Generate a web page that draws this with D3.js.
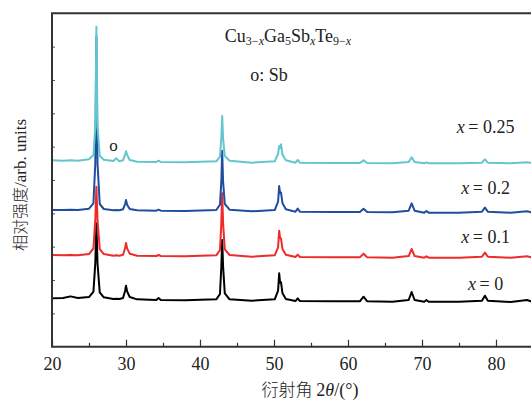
<!DOCTYPE html>
<html>
<head>
<meta charset="utf-8">
<script src="https://cdn.jsdelivr.net/npm/d3@7"></script>
<style>
  body { margin: 0; background: #fff; }
  svg text { font-family: "Liberation Serif", "DejaVu Serif", serif; fill: #222; }
  .cjk { font-family: "Noto Sans CJK SC", sans-serif; font-weight: 300; }
</style>
</head>
<body>
<svg id="chart" width="531" height="407"></svg>
<script>
// shared 2θ sampling points (degrees)
const angles = [20, 21.5, 22.5, 23.5, 25.0, 25.6, 25.85, 26.0, 26.15, 26.45,
  27.0, 28.3, 28.7, 29.1, 29.6, 29.88, 30.0, 30.15, 30.5, 31.5,
  34.1, 34.4, 34.7, 38.0, 42.2, 42.7, 42.88, 43.0, 43.12, 43.35,
  44.0, 47.0, 50.1, 50.55, 50.7, 50.82, 50.95, 51.15, 51.6, 52.9,
  53.2, 53.5, 58.0, 61.6, 62.1, 62.6, 66.0, 68.2, 68.6, 69.0,
  70.3, 70.6, 70.9, 75.0, 78.1, 78.5, 78.9, 82.0, 84.2, 85.0];

// intensities (arb. units, offset stacked)
const x0 = [14.5, 14.6, 15.1, 14.6, 14.9, 16.5, 25, 37, 25, 16.3,
  14.8, 14.3, 14.4, 14.3, 14.6, 16.8, 18.3, 16.6, 14.9, 14.2,
  14.0, 14.6, 14.0, 13.9, 14.2, 15.8, 24, 32, 24, 16.0,
  14.2, 13.8, 14.2, 16.8, 22.0, 19.2, 19.3, 16.0, 14.3, 13.7,
  14.5, 13.7, 13.6, 13.6, 15.0, 13.6, 13.5, 14.0, 16.4, 14.0,
  13.5, 14.0, 13.5, 13.5, 13.8, 15.3, 13.8, 13.4, 14.0, 13.4];

const x01 = [27.5, 27.4, 27.5, 27.4, 27.8, 29.5, 38, 48, 38, 29.3,
  27.8, 27.3, 27.4, 27.3, 27.6, 29.6, 31.1, 29.5, 27.9, 27.3,
  27.2, 27.5, 27.2, 27.1, 27.4, 29.0, 37, 46.0, 37, 29.2,
  27.5, 27.0, 27.4, 29.8, 34.8, 32.6, 32.4, 29.3, 27.6, 26.9,
  27.6, 26.9, 26.8, 26.8, 27.9, 26.8, 26.7, 27.2, 29.3, 27.2,
  26.7, 27.1, 26.7, 26.7, 27.0, 28.2, 27.0, 26.7, 27.1, 26.7];

const x02 = [41.0, 41.0, 41.1, 41.0, 41.4, 43.0, 55, 93.0, 55, 42.8,
  41.3, 40.9, 41.0, 40.9, 41.2, 42.8, 44.0, 42.6, 41.3, 40.9,
  40.8, 41.1, 40.8, 40.7, 41.0, 42.6, 49.5, 58.8, 49.5, 42.8,
  41.1, 40.6, 41.0, 43.5, 48.2, 46.0, 46.2, 43.0, 41.2, 40.5,
  41.4, 40.5, 40.4, 40.4, 41.4, 40.4, 40.3, 40.8, 43.0, 40.8,
  40.2, 40.7, 40.2, 40.2, 40.5, 41.7, 40.5, 40.2, 40.6, 40.2];

const x025 = [55.9, 55.8, 55.9, 55.8, 56.2, 57.5, 66, 96.0, 66, 57.3,
  56.1, 55.7, 56.5, 55.6, 55.9, 57.6, 58.6, 57.6, 56.0, 55.5,
  55.4, 55.8, 55.4, 55.3, 55.6, 57.0, 62.5, 69.2, 62.5, 57.2,
  55.8, 55.2, 55.6, 57.8, 60.2, 59.6, 60.7, 57.6, 55.9, 55.2,
  56.0, 55.2, 55.1, 55.1, 55.9, 55.1, 55.0, 55.4, 56.8, 55.4,
  55.0, 55.3, 55.0, 55.0, 55.2, 56.2, 55.2, 55.0, 55.3, 55.0];

const seriesValues = [x0, x01, x02, x025];
const seriesColors = ["#000000", "#ee2a2a", "#1f4e9f", "#62c6cf"];
const labelValues = ["0", "0.1", "0.2", "0.25"];
const labelY = [17, 31, 45.8, 64];   // in intensity units
const xTicks = [20, 30, 40, 50, 60, 70, 80];
const xMinorTicks = [25, 35, 45, 55, 65, 75, 85];
const yTicks = [10, 20, 30, 40, 50, 60, 70, 80, 90];

const svg = d3.select("#chart");
const plotLeft = 52, plotTop = 13.3, plotBottom = 346.7;

const x = d3.scaleLinear().domain([20, 85]).range([plotLeft, plotLeft + 65 * 7.4]);
const y = d3.scaleLinear().domain([0, 100]).range([plotBottom, plotTop]);

// spectra, drawn bottom series first
const line = d3.line()
  .x((d, i) => x(angles[i]))
  .y(d => y(d));

svg.selectAll(".spec")
  .data(seriesValues)
  .enter()
  .append("path")
  .attr("class", "spec")
  .attr("d", d => line(d))
  .attr("fill", "none")
  .attr("stroke", (d, i) => seriesColors[i])
  .attr("stroke-width", 2)
  .attr("stroke-linejoin", "round");

// axes (ticks pointing inward)
const xAxis = svg.append("g")
  .attr("transform", `translate(0,${plotBottom})`)
  .call(d3.axisBottom(x).tickValues(xTicks).tickSize(-7).tickPadding(11));
xAxis.select(".domain").remove();
xAxis.selectAll("text").attr("font-size", 18).attr("font-family", "Liberation Serif");
xAxis.selectAll("line").attr("stroke", "#333").attr("stroke-width", 1.2);

const xMinor = svg.append("g")
  .attr("transform", `translate(0,${plotBottom})`)
  .call(d3.axisBottom(x).tickValues(xMinorTicks).tickSize(-4).tickFormat(""));
xMinor.select(".domain").remove();
xMinor.selectAll("line").attr("stroke", "#333").attr("stroke-width", 1.2);

const yAxis = svg.append("g")
  .attr("transform", `translate(${plotLeft},0)`)
  .call(d3.axisLeft(y).tickValues(yTicks).tickSize(-3).tickFormat(""));
yAxis.select(".domain").remove();
yAxis.selectAll("line").attr("stroke", "#555").attr("stroke-width", 1);

// frame: left, bottom and top (right edge falls outside the picture)
svg.append("path")
  .attr("d", `M${plotLeft + 600},${plotTop}H${plotLeft}V${plotBottom}H${plotLeft + 600}`)
  .attr("fill", "none")
  .attr("stroke", "#333")
  .attr("stroke-width", 2);

// series labels
const labels = svg.selectAll(".slabel")
  .data(labelValues)
  .enter()
  .append("text")
  .attr("class", "slabel")
  .attr("x", x(78.6))
  .attr("y", (d, i) => y(labelY[i]))
  .attr("text-anchor", "middle")
  .attr("font-size", 18)
  .attr("xml:space", "preserve");
labels.append("tspan").attr("font-style", "italic").text("x");
labels.append("tspan").text(d => "\u2009= " + d);

// title formula
const title = svg.append("text")
  .attr("x", 288).attr("y", 42)
  .attr("text-anchor", "middle")
  .attr("font-size", 18);
title.append("tspan").text("Cu");
title.append("tspan").attr("font-size", 12).attr("dy", 3).text("3−");
title.append("tspan").attr("font-size", 12).attr("font-style", "italic").text("x");
title.append("tspan").attr("dy", -3).text("Ga");
title.append("tspan").attr("font-size", 12).attr("dy", 3).text("5");
title.append("tspan").attr("dy", -3).text("Sb");
title.append("tspan").attr("font-size", 12).attr("font-style", "italic").attr("dy", 3).text("x");
title.append("tspan").attr("dy", -3).text("Te");
title.append("tspan").attr("font-size", 12).attr("dy", 3).text("9−");
title.append("tspan").attr("font-size", 12).attr("font-style", "italic").text("x");

svg.append("text")
  .attr("x", 269).attr("y", 81)
  .attr("text-anchor", "middle")
  .attr("font-size", 18)
  .text("o: Sb");

// Sb marker
svg.append("text")
  .attr("x", x(28.3)).attr("y", y(58.7))
  .attr("text-anchor", "middle")
  .attr("font-size", 17)
  .text("o");

// axis titles
const xt = svg.append("text")
  .attr("x", 310).attr("y", 396)
  .attr("text-anchor", "middle")
  .attr("font-size", 18);
xt.append("tspan").attr("class", "cjk").attr("font-size", 17).text("衍射角 ");
xt.append("tspan").text("2");
xt.append("tspan").attr("font-style", "italic").text("θ");
xt.append("tspan").text("/(°)");

const yt = svg.append("text")
  .attr("transform", "translate(26,185) rotate(-90)")
  .attr("text-anchor", "middle")
  .attr("font-size", 17);
yt.append("tspan").attr("class", "cjk").attr("font-size", 16).text("相对强度");
yt.append("tspan").text("/arb. units");
</script>
</body>
</html>
